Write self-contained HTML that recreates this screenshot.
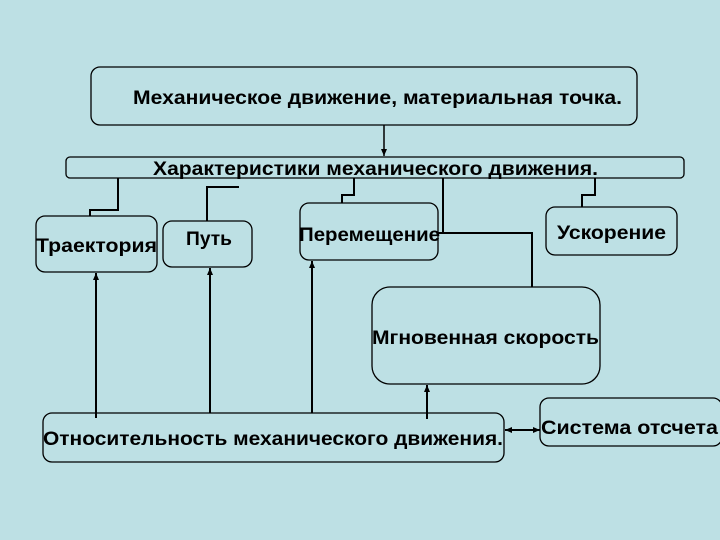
<!DOCTYPE html>
<html><head><meta charset="utf-8"><style>html,body{margin:0;padding:0;background:#bde0e4;}svg{display:block}</style></head>
<body>
<svg width="720" height="540" viewBox="0 0 720 540" xmlns="http://www.w3.org/2000/svg">
<defs><marker id="a" markerWidth="8" markerHeight="8" refX="7" refY="4" orient="auto" markerUnits="userSpaceOnUse"><path d="M0,1 L7,4 L0,7 Z" fill="#000"/></marker></defs>
<rect width="720" height="540" fill="#bde0e4"/>
<g fill="none" stroke="#000" stroke-width="1.3">
<rect x="91" y="67" width="546" height="58" rx="9"/>
<rect x="66" y="157" width="618" height="21" rx="4"/>
<rect x="36" y="216" width="121" height="56" rx="9"/>
<rect x="163" y="221" width="89" height="46" rx="9"/>
<rect x="300" y="203" width="138" height="57" rx="9"/>
<rect x="546" y="207" width="131" height="48" rx="9"/>
<rect x="372" y="287" width="228" height="97" rx="18"/>
<rect x="43" y="413" width="461" height="49" rx="9"/>
<rect x="540" y="398" width="182" height="48" rx="9"/>
</g>
<g fill="none" stroke="#000" stroke-width="2">
<line x1="384" y1="125" x2="384" y2="156" marker-end="url(#a)" stroke-width="1.5"/>
<polyline points="118,178 118,210 90,210 90,216"/>
<polyline points="239,187 207,187 207,221"/>
<polyline points="354,178 354,195 342,195 342,203"/>
<polyline points="443,178 443,233"/>
<polyline points="438,233 532,233 532,287"/>
<polyline points="595,178 595,195 582,195 582,207"/>
<line x1="96" y1="418" x2="96" y2="273" marker-end="url(#a)"/>
<line x1="210" y1="413" x2="210" y2="268" marker-end="url(#a)"/>
<line x1="312" y1="413" x2="312" y2="261" marker-end="url(#a)"/>
<line x1="427" y1="419" x2="427" y2="385" marker-end="url(#a)"/>
<line x1="520" y1="430" x2="540" y2="430" marker-end="url(#a)"/>
<line x1="525" y1="430" x2="505" y2="430" marker-end="url(#a)"/>
</g>
<g font-family="'Liberation Sans', sans-serif" font-weight="bold" font-size="19" fill="#000">
<text x="133" y="104" textLength="489" lengthAdjust="spacingAndGlyphs">Механическое движение, материальная точка.</text>
<text x="153" y="175" textLength="445" lengthAdjust="spacingAndGlyphs">Характеристики механического движения.</text>
<text x="36" y="252" textLength="121" lengthAdjust="spacingAndGlyphs">Траектория</text>
<text x="186" y="245" textLength="46" lengthAdjust="spacingAndGlyphs">Путь</text>
<text x="299" y="241" textLength="141" lengthAdjust="spacingAndGlyphs">Перемещение</text>
<text x="557" y="239" textLength="109" lengthAdjust="spacingAndGlyphs">Ускорение</text>
<text x="372" y="344" textLength="227" lengthAdjust="spacingAndGlyphs">Мгновенная скорость</text>
<text x="43" y="445" textLength="460" lengthAdjust="spacingAndGlyphs">Относительность механического движения.</text>
<text x="541" y="434" textLength="177" lengthAdjust="spacingAndGlyphs">Система отсчета</text>
</g>
</svg>
</body></html>
